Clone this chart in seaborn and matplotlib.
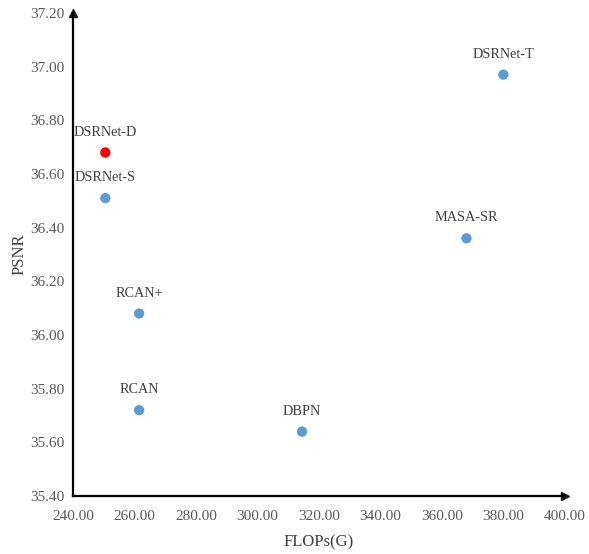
import matplotlib
matplotlib.use("Agg")
import matplotlib.pyplot as plt
import pandas as pd
import seaborn as sns

sns.set_theme(style="white")
plt.rcParams["font.family"] = ["Liberation Serif", "DejaVu Serif"]

MODELS = ["DSRNet-T", "DSRNet-D", "DSRNet-S", "MASA-SR", "RCAN+", "RCAN", "DBPN"]
FLOPS = [380.0, 250.5, 250.5, 368.0, 261.5, 261.5, 314.5]
PSNR = [36.97, 36.68, 36.51, 36.36, 36.08, 35.72, 35.64]
GROUP = ["other", "ours", "other", "other", "other", "other", "other"]

X_TICKS = [240, 260, 280, 300, 320, 340, 360, 380, 400]
Y_TICKS = [35.40, 35.60, 35.80, 36.00, 36.20, 36.40, 36.60, 36.80, 37.00, 37.20]

df = pd.DataFrame({"model": MODELS, "flops": FLOPS, "psnr": PSNR, "group": GROUP})

fig = plt.figure(figsize=(5.89, 5.54), dpi=100)
ax = fig.add_axes([0.124, 0.1047, 0.835, 0.872])

sns.scatterplot(
    data=df, x="flops", y="psnr", hue="group",
    palette={"other": "#5B9BD5", "ours": "#FF0000"},
    s=55, linewidth=0, legend=False, ax=ax, zorder=3,
)

for _, row in df.iterrows():
    ax.annotate(row["model"], (row["flops"], row["psnr"]), xytext=(0, 10),
                textcoords="offset points", ha="center", va="bottom",
                fontsize=10.3, color="#404040")

ax.set_xlim(240, 400)
ax.set_ylim(35.4, 37.2)
ax.set_xticks(X_TICKS)
ax.set_yticks(Y_TICKS)
ax.set_xticklabels([f"{v:.2f}" for v in X_TICKS])
ax.set_yticklabels([f"{v:.2f}" for v in Y_TICKS])
ax.tick_params(axis="both", length=0, labelsize=11, labelcolor="#595959")
ax.tick_params(axis="x", pad=10)
ax.tick_params(axis="y", pad=6)

for side in ["top", "right"]:
    ax.spines[side].set_visible(False)
for side in ["left", "bottom"]:
    ax.spines[side].set_color("black")
    ax.spines[side].set_linewidth(1.6)

# arrow heads at axis ends
ax.plot(1, 0, ">k", markersize=6, transform=ax.transAxes, clip_on=False)
ax.plot(0, 1, "^k", markersize=6, transform=ax.transAxes, clip_on=False)

ax.set_xlabel("FLOPs(G)", fontsize=12, color="#404040", labelpad=8)
ax.set_ylabel("PSNR", fontsize=12, color="#404040", labelpad=2)

fig.savefig("out.png", dpi=100)
